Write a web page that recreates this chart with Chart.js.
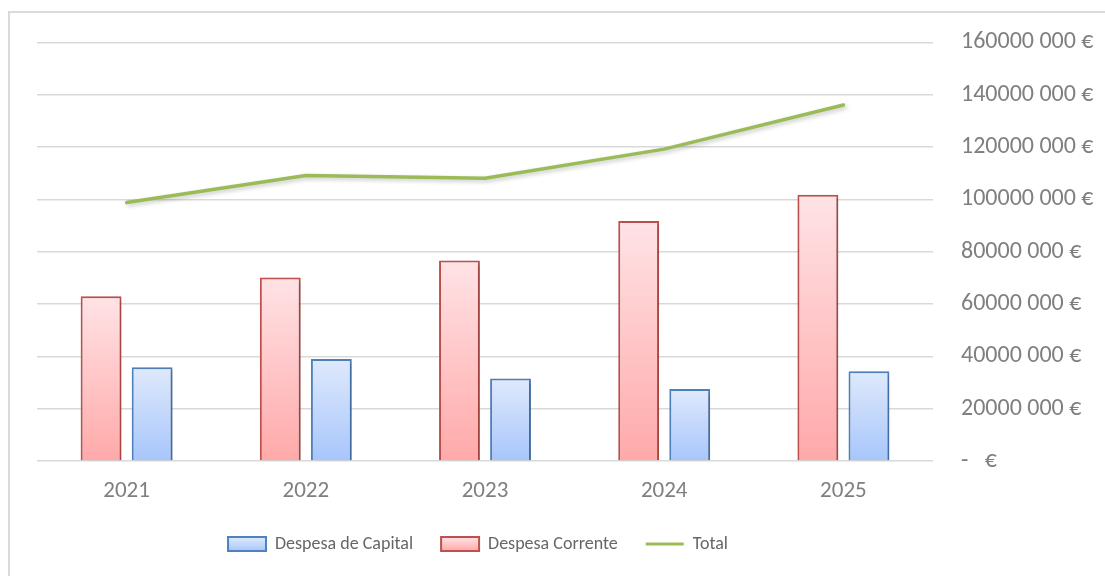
<!DOCTYPE html>
<html>
<head>
<meta charset="utf-8">
<script src="https://cdn.jsdelivr.net/npm/chart.js@4.4.1/dist/chart.umd.min.js"></script>
<style>
  html, body { margin: 0; padding: 0; background: #fff; overflow: hidden; }
  #moldura { position: absolute; left: 8px; top: 11px; width: 1110px; height: 580px; border: 2px solid #dadada; box-sizing: border-box; }
  #grafico { position: absolute; left: 0; top: 0; }
</style>
</head>
<body>
<div id="moldura"></div>
<canvas id="grafico" width="1105" height="576"></canvas>
<script>
// dados (euros)
const anos = ['2021', '2022', '2023', '2024', '2025'];
const despesaCorrente = [63000000, 70100000, 76600000, 91700000, 101800000];
const despesaCapital = [35800000, 39000000, 31500000, 27500000, 34300000];
const total = [98800000, 109100000, 108100000, 119200000, 136100000];
const eixoMax = 160000000;
const eixoPasso = 20000000;
const ordemLegenda = ['Despesa de Capital', 'Despesa Corrente', 'Total'];

const fonte = 'Carlito, Lato, sans-serif';
const corTexto = '#7f7f7f';
const corGrelha = '#d9d9d9';
const padLegenda = 28;
const fonteLegenda = 18;

// gradiente de cada barra: claro em cima, mais forte em baixo
function gradienteBarra(cima, baixo) {
    return function (context) {
        const chart = context.chart;
        const y = chart.scales && chart.scales.y;
        if (!y || context.raw == null) return baixo;
        const topo = y.getPixelForValue(context.raw);
        const base = y.getPixelForValue(0);
        if (!isFinite(topo) || !isFinite(base) || topo === base) return baixo;
        const g = chart.ctx.createLinearGradient(0, topo, 0, base);
        g.addColorStop(0, cima);
        g.addColorStop(1, baixo);
        return g;
    };
}

// formato tipo Excel: "160000 000 €" e "-   €" para o zero
function formatoEuro(v) {
    if (v === 0) return '-   €';
    return Math.round(v / 1000) + ' 000 €';
}

// sombra leve por baixo das barras e da linha
const sombra = {
    id: 'sombra',
    beforeDatasetDraw(chart) {
        const c = chart.ctx;
        c.save();
        c.shadowColor = 'rgba(0,0,0,0.22)';
        c.shadowBlur = 4;
        c.shadowOffsetX = 2;
        c.shadowOffsetY = 2;
    },
    afterDatasetDraw(chart) {
        chart.ctx.restore();
    }
};

// legenda centrada sob a área do gráfico e descida um pouco
const ajusteLegenda = {
    id: 'ajusteLegenda',
    afterLayout(chart) {
        const leg = chart.legend;
        const area = chart.chartArea;
        leg.left = area.left - padLegenda + 7;
        leg.right = area.right + 7;
        const alvo = 544;
        const d = alvo - (leg.top + padLegenda + fonteLegenda / 2);
        leg.top += d;
        leg.bottom += d;
    }
};

const ctx = document.getElementById('grafico');

const data = {
    labels: anos,
    datasets: [
        {
            type: 'bar',
            label: 'Despesa Corrente',
            data: despesaCorrente,
            backgroundColor: gradienteBarra('#ffe3e6', '#ffa9a9'),
            borderColor: '#c0504d',
            borderWidth: 2,
            corCima: '#ffe3e6',
            corBaixo: '#ffa9a9',
            order: 1
        },
        {
            type: 'bar',
            label: 'Despesa de Capital',
            data: despesaCapital,
            backgroundColor: gradienteBarra('#dfe9fc', '#a7c6fb'),
            borderColor: '#4f81bd',
            borderWidth: 2,
            corCima: '#dfe9fc',
            corBaixo: '#a7c6fb',
            order: 1
        },
        {
            type: 'line',
            label: 'Total',
            data: total,
            borderColor: '#9bbb59',
            backgroundColor: '#9bbb59',
            borderWidth: 3.5,
            pointRadius: 0,
            tension: 0,
            borderCapStyle: 'round',
            borderJoinStyle: 'round',
            order: 0
        }
    ]
};

const config = {
    data: data,
    plugins: [sombra, ajusteLegenda],
    options: {
        responsive: false,
        animation: false,
        events: [],
        layout: { padding: { left: 37, top: 39, right: 0, bottom: 0 } },
        datasets: {
            bar: { categoryPercentage: 0.57, barPercentage: 0.8 }
        },
        scales: {
            x: {
                grid: { display: false, drawTicks: false },
                border: { display: false },
                ticks: { color: corTexto, font: { family: fonte, size: 23 }, padding: 16 },
                afterFit(scale) { scale.height = 59; }
            },
            y: {
                position: 'right',
                min: 0,
                max: eixoMax,
                grid: { color: corGrelha, lineWidth: 1.5, drawTicks: false },
                border: { display: false },
                ticks: {
                    stepSize: eixoPasso,
                    color: corTexto,
                    font: { family: fonte, size: 24 },
                    padding: 28,
                    crossAlign: 'near',
                    callback: function (v) { return formatoEuro(v); }
                },
                afterFit(scale) { scale.width = 172; }
            }
        },
        plugins: {
            tooltip: { enabled: false },
            legend: {
                position: 'bottom',
                labels: {
                    color: '#666666',
                    font: { family: fonte, size: fonteLegenda },
                    padding: padLegenda,
                    usePointStyle: true,
                    pointStyleWidth: 38,
                    boxWidth: 38,
                    boxHeight: 14,
                    sort: (a, b) => ordemLegenda.indexOf(a.text) - ordemLegenda.indexOf(b.text),
                    generateLabels(chart) {
                        const itens = Chart.defaults.plugins.legend.labels.generateLabels(chart);
                        const leg = chart.legend;
                        let cy = chart.height - 32;
                        if (leg && isFinite(leg.top)) cy = leg.top + padLegenda + fonteLegenda / 2;
                        itens.forEach(item => {
                            const ds = chart.data.datasets[item.datasetIndex];
                            if (ds.type === 'line') {
                                item.pointStyle = 'line';
                                item.strokeStyle = ds.borderColor;
                                item.fillStyle = ds.borderColor;
                                item.lineWidth = 3;
                            } else {
                                const g = chart.ctx.createLinearGradient(0, cy - 7, 0, cy + 7);
                                g.addColorStop(0, ds.corCima);
                                g.addColorStop(1, ds.corBaixo);
                                item.pointStyle = 'rect';
                                item.fillStyle = g;
                                item.strokeStyle = ds.borderColor;
                                item.lineWidth = 2;
                            }
                        });
                        return itens;
                    }
                }
            }
        }
    }
};

new Chart(ctx, config);
</script>
</body>
</html>
